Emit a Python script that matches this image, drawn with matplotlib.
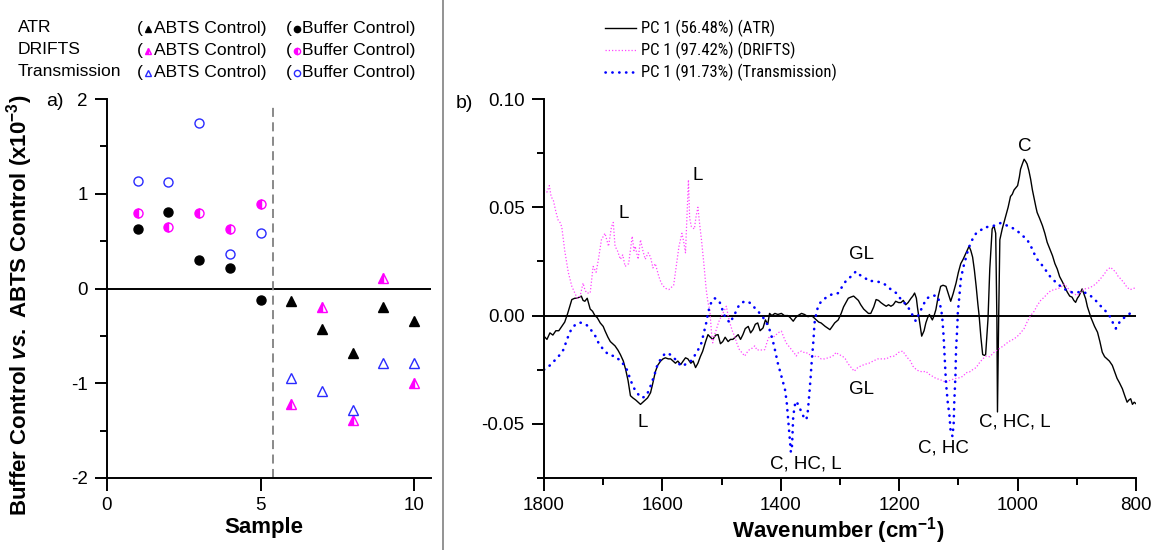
import matplotlib
matplotlib.use('Agg')
import matplotlib.pyplot as plt
import numpy as np

plt.rcParams['font.family'] = ['Liberation Sans', 'DejaVu Sans']
plt.rcParams['axes.unicode_minus'] = False
plt.rcParams['mathtext.fontset'] = 'custom'
plt.rcParams['mathtext.rm'] = 'Liberation Sans:bold'
plt.rcParams['mathtext.it'] = 'Liberation Sans:italic:bold'
plt.rcParams['mathtext.bf'] = 'Liberation Sans:bold'

# ---- panel a) data (x10^-3) ----
samples_buffer = [1, 2, 3, 4, 5]
samples_abts = [6, 7, 8, 9, 10]
atr_buffer = [0.63, 0.81, 0.30, 0.22, -0.12]
drifts_buffer = [0.80, 0.65, 0.80, 0.63, 0.89]
trans_buffer = [1.135, 1.125, 1.75, 0.365, 0.587]
atr_abts = [-0.13, -0.43, -0.68, -0.19, -0.34]
drifts_abts = [-1.22, -0.20, -1.39, 0.11, -1.00]
trans_abts = [-0.94, -1.08, -1.28, -0.79, -0.79]

# ---- panel b) PC1 loadings, (wavenumber, loading) ----
atr_pc1 = [
    (1800, -0.0095), (1795, -0.011), (1790, -0.008), (1785, -0.009), (1780, -0.007),
    (1775, -0.007), (1770, -0.005), (1765, -0.003), (1760, 0.001), (1753, 0.0074),
    (1748, 0.008), (1745, 0.008), (1740, 0.0085), (1737, 0.009), (1734, 0.007),
    (1731, 0.0066), (1727, 0.008), (1722, 0.003), (1718, 0.002), (1714, 0.000),
    (1710, -0.001), (1705, -0.0034), (1700, -0.005), (1697, -0.007), (1692, -0.010),
    (1688, -0.012), (1684, -0.013), (1680, -0.014), (1675, -0.016), (1671, -0.018),
    (1666, -0.021), (1662, -0.025), (1658, -0.030), (1654, -0.037), (1650, -0.038),
    (1645, -0.039), (1641, -0.040), (1637, -0.041), (1633, -0.040), (1629, -0.039),
    (1625, -0.038), (1620, -0.0356), (1616, -0.031), (1612, -0.026), (1608, -0.023),
    (1603, -0.021), (1599, -0.020), (1595, -0.0195), (1590, -0.020), (1586, -0.020),
    (1582, -0.021), (1578, -0.022), (1574, -0.021), (1569, -0.0226), (1565, -0.021),
    (1561, -0.0195), (1557, -0.020), (1552, -0.022), (1548, -0.021), (1544, -0.024),
    (1540, -0.022), (1536, -0.019), (1532, -0.0165), (1527, -0.012), (1523, -0.0088),
    (1519, -0.010), (1515, -0.011), (1510, -0.009), (1506, -0.0088), (1502, -0.013),
    (1498, -0.012), (1494, -0.010), (1489, -0.012), (1485, -0.011), (1481, -0.011),
    (1477, -0.010), (1472, -0.0088), (1468, -0.011), (1464, -0.0088), (1460, -0.006),
    (1455, -0.005), (1451, -0.008), (1447, -0.0065), (1443, -0.004), (1439, -0.0034),
    (1435, -0.007), (1430, -0.0057), (1426, -0.002), (1422, -0.004), (1419, 0.001),
    (1415, 0.000), (1410, 0.001), (1405, 0.0005), (1399, 0.001), (1394, 0.000),
    (1388, 0.000), (1384, -0.001), (1379, -0.0026), (1375, -0.001), (1371, 0.000),
    (1365, 0.001), (1360, 0.0005), (1354, -0.0005), (1348, 0.000), (1344, -0.001),
    (1340, -0.002), (1336, -0.003), (1332, -0.0034), (1325, -0.005), (1317, -0.0065),
    (1313, -0.005), (1309, -0.0034), (1303, -0.002), (1298, 0.001), (1294, 0.004),
    (1290, 0.006), (1286, 0.008), (1282, 0.0085), (1277, 0.009), (1273, 0.008),
    (1269, 0.007), (1265, 0.005), (1260, 0.003), (1256, 0.002), (1252, 0.001),
    (1248, 0.001), (1243, 0.004), (1239, 0.0074), (1235, 0.007), (1231, 0.006),
    (1226, 0.005), (1222, 0.0043), (1218, 0.005), (1214, 0.0043), (1210, 0.005),
    (1206, 0.0066), (1201, 0.006), (1197, 0.006), (1193, 0.007), (1189, 0.005),
    (1185, 0.006), (1180, 0.008), (1177, 0.009), (1174, 0.0104), (1171, 0.008),
    (1169, 0.0035), (1165, -0.004), (1162, -0.0095), (1158, -0.007), (1155, -0.0034),
    (1152, -0.001), (1149, 0.0005), (1146, -0.001), (1144, -0.002), (1141, 0.000),
    (1138, 0.0028), (1134, 0.009), (1130, 0.0135), (1126, 0.014), (1121, 0.0135),
    (1117, 0.010), (1113, 0.0066), (1109, 0.010), (1104, 0.015), (1100, 0.020),
    (1096, 0.024), (1092, 0.026), (1087, 0.029), (1082, 0.032), (1079, 0.030),
    (1076, 0.027), (1073, 0.021), (1070, 0.0135), (1067, 0.005), (1065, 0.000),
    (1062, -0.010), (1059, -0.018), (1056, -0.0184), (1054, -0.018), (1050, -0.0015),
    (1047, 0.0215), (1043, 0.040), (1040, 0.0415), (1037, 0.038), (1035, -0.0015),
    (1034, -0.0445), (1032, -0.0015), (1030, 0.035), (1026, 0.040), (1020, 0.046),
    (1016, 0.050), (1012, 0.055), (1009, 0.056), (1006, 0.058), (1003, 0.059),
    (1000, 0.060), (997, 0.064), (995, 0.0676), (992, 0.070), (989, 0.0722),
    (986, 0.071), (984, 0.070), (981, 0.067), (978, 0.063), (975, 0.058),
    (972, 0.054), (969, 0.050), (967, 0.0476), (963, 0.045), (958, 0.0415),
    (954, 0.038), (950, 0.0338), (946, 0.031), (941, 0.0276), (937, 0.024),
    (933, 0.0215), (929, 0.018), (924, 0.0154), (920, 0.013), (916, 0.0108),
    (912, 0.009), (908, 0.0085), (905, 0.007), (902, 0.0061), (899, 0.008),
    (896, 0.0092), (893, 0.011), (891, 0.0123), (888, 0.010), (885, 0.0077),
    (882, 0.004), (879, 0.0015), (876, -0.001), (874, -0.0023), (870, -0.005),
    (865, -0.0077), (861, -0.012), (857, -0.0169), (853, -0.019), (849, -0.020),
    (845, -0.021), (840, -0.023), (836, -0.026), (832, -0.029), (828, -0.031),
    (823, -0.0338), (819, -0.037), (815, -0.040), (812, -0.039), (809, -0.0384),
    (806, -0.041), (803, -0.040), (800, -0.0407),
]

drifts_pc1 = [
    (1800, 0.058), (1795, 0.057), (1791, 0.060), (1788, 0.055), (1784, 0.053),
    (1780, 0.048), (1776, 0.044), (1773, 0.043), (1770, 0.041), (1765, 0.030),
    (1759, 0.020), (1753, 0.0135), (1748, 0.0104), (1744, 0.008), (1739, 0.009),
    (1734, 0.015), (1731, 0.012), (1728, 0.0104), (1722, 0.0104), (1717, 0.0227),
    (1712, 0.020), (1708, 0.026), (1703, 0.035), (1697, 0.038), (1691, 0.032),
    (1686, 0.041), (1683, 0.043), (1680, 0.032), (1676, 0.030), (1671, 0.026),
    (1667, 0.028), (1663, 0.0227), (1657, 0.024), (1651, 0.0366), (1648, 0.030),
    (1646, 0.032), (1641, 0.026), (1637, 0.035), (1633, 0.030), (1629, 0.026),
    (1624, 0.029), (1620, 0.027), (1616, 0.022), (1612, 0.024), (1606, 0.018),
    (1602, 0.015), (1598, 0.0135), (1594, 0.0125), (1589, 0.012), (1585, 0.013),
    (1581, 0.014), (1577, 0.022), (1572, 0.032), (1567, 0.038), (1564, 0.034),
    (1561, 0.029), (1558, 0.050), (1556, 0.0627), (1554, 0.045), (1551, 0.041),
    (1546, 0.040), (1543, 0.046), (1540, 0.050), (1537, 0.042), (1534, 0.035),
    (1530, 0.024), (1526, 0.012), (1523, 0.006), (1520, 0.0028), (1517, -0.008),
    (1515, -0.0126), (1512, -0.009), (1509, -0.0065), (1505, -0.003), (1500, 0.000),
    (1496, 0.002), (1492, 0.0043), (1489, 0.000), (1486, -0.0034), (1482, -0.007),
    (1478, -0.0095), (1474, -0.013), (1470, -0.0157), (1466, -0.017), (1461, -0.0187),
    (1457, -0.017), (1453, -0.0157), (1448, -0.015), (1444, -0.014), (1440, -0.016),
    (1436, -0.0157), (1431, -0.016), (1427, -0.0157), (1423, -0.012), (1419, -0.0095),
    (1414, -0.010), (1410, -0.0095), (1405, -0.008), (1399, -0.0072), (1395, -0.010),
    (1391, -0.0126), (1387, -0.014), (1382, -0.0157), (1378, -0.017), (1374, -0.0187),
    (1370, -0.017), (1365, -0.0164), (1361, -0.017), (1357, -0.017), (1353, -0.018),
    (1349, -0.018), (1344, -0.019), (1340, -0.0187), (1336, -0.019), (1332, -0.020),
    (1326, -0.020), (1320, -0.0195), (1314, -0.019), (1309, -0.018), (1307, -0.017),
    (1302, -0.018), (1296, -0.0187), (1291, -0.020), (1287, -0.022), (1281, -0.024),
    (1276, -0.0257), (1270, -0.024), (1265, -0.0233), (1258, -0.0225), (1251, -0.022),
    (1244, -0.021), (1236, -0.020), (1229, -0.020), (1222, -0.020), (1215, -0.019),
    (1208, -0.0187), (1201, -0.017), (1194, -0.0164), (1190, -0.018), (1186, -0.0195),
    (1181, -0.021), (1177, -0.0233), (1171, -0.025), (1166, -0.0257), (1160, -0.026),
    (1155, -0.0257), (1150, -0.027), (1144, -0.028), (1138, -0.029), (1132, -0.0295),
    (1127, -0.030), (1121, -0.031), (1115, -0.030), (1110, -0.0295), (1104, -0.029),
    (1098, -0.0287), (1092, -0.028), (1087, -0.0264), (1081, -0.026), (1076, -0.025),
    (1070, -0.024), (1065, -0.022), (1059, -0.020), (1053, -0.0187), (1047, -0.019),
    (1040, -0.017), (1032, -0.0155), (1023, -0.0138), (1015, -0.012), (1006, -0.0108),
    (998, -0.009), (989, -0.006), (984, -0.003), (978, 0.000), (972, 0.002),
    (967, 0.0046), (961, 0.007), (955, 0.0085), (950, 0.010), (944, 0.0115),
    (938, 0.012), (933, 0.0123), (927, 0.013), (921, 0.0146), (916, 0.013),
    (910, 0.0108), (904, 0.010), (899, 0.0092), (893, 0.011), (888, 0.0123),
    (882, 0.0125), (877, 0.013), (871, 0.014), (865, 0.0154), (860, 0.017),
    (854, 0.019), (849, 0.021), (843, 0.0223), (838, 0.021), (834, 0.020),
    (830, 0.018), (826, 0.017), (820, 0.015), (815, 0.013), (810, 0.012),
    (806, 0.0123), (802, 0.0128), (800, 0.013),
]

trans_pc1 = [
    (1800, -0.025), (1795, -0.024), (1790, -0.023), (1785, -0.0215), (1779, -0.020),
    (1773, -0.018), (1767, -0.0157), (1763, -0.0125), (1759, -0.0095), (1755, -0.007),
    (1750, -0.005), (1746, -0.004), (1742, -0.0034), (1738, -0.0033), (1734, -0.0037),
    (1730, -0.004), (1725, -0.005), (1721, -0.0065), (1717, -0.008), (1712, -0.010),
    (1708, -0.0126), (1704, -0.014), (1700, -0.0157), (1695, -0.017), (1691, -0.018),
    (1686, -0.0185), (1680, -0.0187), (1675, -0.020), (1669, -0.021), (1665, -0.023),
    (1660, -0.025), (1656, -0.028), (1652, -0.031), (1647, -0.034), (1643, -0.0356),
    (1639, -0.037), (1635, -0.038), (1630, -0.0375), (1626, -0.0364), (1622, -0.034),
    (1618, -0.031), (1613, -0.027), (1609, -0.0233), (1605, -0.021), (1601, -0.0195),
    (1597, -0.018), (1592, -0.0172), (1587, -0.018), (1581, -0.0195), (1575, -0.021),
    (1569, -0.0233), (1564, -0.023), (1558, -0.022), (1552, -0.021), (1546, -0.0187),
    (1540, -0.016), (1534, -0.0126), (1530, -0.008), (1526, -0.0034), (1523, 0.001),
    (1520, 0.0043), (1516, 0.007), (1512, 0.008), (1507, 0.0075), (1503, 0.006),
    (1499, 0.003), (1495, 0.000), (1490, -0.002), (1486, -0.0034), (1482, -0.0015),
    (1478, 0.0005), (1474, 0.003), (1470, 0.005), (1465, 0.006), (1461, 0.0066),
    (1457, 0.0065), (1453, 0.006), (1448, 0.005), (1444, 0.0035), (1440, 0.0025),
    (1436, 0.0012), (1431, -0.0005), (1427, -0.002), (1423, -0.004), (1419, -0.0065),
    (1414, -0.011), (1410, -0.0157), (1405, -0.022), (1399, -0.028), (1393, -0.034),
    (1390, -0.040), (1388, -0.0464), (1385, -0.0556), (1383, -0.063), (1381, -0.060),
    (1379, -0.0464), (1376, -0.041), (1374, -0.0395), (1371, -0.041), (1368, -0.0425),
    (1365, -0.045), (1362, -0.0464), (1359, -0.048), (1357, -0.048), (1355, -0.046),
    (1353, -0.040), (1350, -0.030), (1348, -0.022), (1345, -0.012), (1343, -0.0034),
    (1340, 0.001), (1337, 0.0043), (1333, 0.006), (1329, 0.0066), (1325, 0.008),
    (1320, 0.0089), (1316, 0.0095), (1312, 0.010), (1307, 0.0100), (1303, 0.0104),
    (1296, 0.0135), (1290, 0.016), (1284, 0.0174), (1278, 0.019), (1273, 0.0204),
    (1268, 0.019), (1262, 0.018), (1256, 0.017), (1251, 0.0158), (1245, 0.016),
    (1239, 0.0158), (1234, 0.0155), (1228, 0.015), (1222, 0.014), (1217, 0.0127),
    (1211, 0.0115), (1205, 0.0104), (1200, 0.0085), (1194, 0.0066), (1190, 0.0055),
    (1186, 0.0043), (1181, 0.002), (1177, 0.000), (1172, -0.0026), (1168, 0.000),
    (1163, 0.0028), (1159, 0.005), (1155, 0.0074), (1150, 0.0085), (1144, 0.0092),
    (1140, 0.0092), (1135, 0.0089), (1132, 0.006), (1129, 0.0028), (1127, -0.002),
    (1125, -0.0095), (1123, -0.020), (1121, -0.031), (1118, -0.040), (1115, -0.0464),
    (1113, -0.054), (1110, -0.0557), (1108, -0.050), (1107, -0.040), (1105, -0.028),
    (1104, -0.0157), (1102, -0.006), (1101, 0.0012), (1098, 0.010), (1096, 0.0166),
    (1092, 0.022), (1087, 0.027), (1083, 0.031), (1079, 0.0335), (1075, 0.036),
    (1070, 0.038), (1065, 0.039), (1059, 0.040), (1057, 0.0407), (1048, 0.041),
    (1040, 0.0415), (1035, 0.042), (1029, 0.0427), (1023, 0.042), (1017, 0.0415),
    (1012, 0.041), (1006, 0.040), (1000, 0.039), (995, 0.0376), (990, 0.0365),
    (984, 0.0353), (980, 0.033), (975, 0.0307), (971, 0.028), (967, 0.026),
    (962, 0.0245), (958, 0.023), (954, 0.0215), (950, 0.020), (945, 0.018),
    (941, 0.0169), (937, 0.0158), (933, 0.0146), (927, 0.0135), (921, 0.0123),
    (916, 0.0115), (910, 0.0108), (905, 0.0108), (899, 0.0108), (893, 0.0108),
    (888, 0.0108), (882, 0.010), (877, 0.0092), (871, 0.0077), (865, 0.0061),
    (860, 0.0045), (854, 0.003), (849, 0.0012), (843, -0.0008), (838, -0.004),
    (834, -0.006), (830, -0.004), (826, -0.0023), (820, -0.001), (815, 0.000),
    (810, 0.001), (806, 0.0015), (803, 0.001), (801, 0.0008),
]

# band assignments (label, wavenumber, loading)
band_labels = [
    ('C', 988, 0.078), ('L', 1666, 0.047), ('L', 1541, 0.0645), ('L', 1634, -0.0495),
    ('GL', 1263, 0.028), ('GL', 1263, -0.034), ('C, HC, L', 1357, -0.0685),
    ('C, HC', 1126, -0.061), ('C, HC, L', 1004, -0.049),
]

MAGENTA = '#ff00ff'
BLUE = '#2a2aff'
W, H = 1153, 550

fig = plt.figure(figsize=(W / 100, H / 100), dpi=100)
ax1 = fig.add_axes([107 / W, 1 - 478 / H, (431 - 107) / W, (478 - 99) / H])
ax2 = fig.add_axes([544 / W, 1 - 478 / H, (1136 - 544) / W, (478 - 99) / H])

# ---------------- panel a ----------------
ax1.axhline(0, color='black', lw=1.4, zorder=1)
ax1.axvline(5.4, ymax=0.985, color='gray', lw=1.3, ls=(0, (5, 3)), zorder=1)
ax1.plot(samples_buffer, atr_buffer, 'o', color='black', ms=6.5, ls='none')
ax1.plot(samples_buffer, drifts_buffer, 'o', ls='none', ms=6.5, fillstyle='left',
         mfc=MAGENTA, mfcalt='white', mec=MAGENTA, mew=1)
ax1.plot(samples_buffer, trans_buffer, 'o', ls='none', ms=6.5, mfc='none', mec=BLUE, mew=1)
ax1.plot(samples_abts, atr_abts, '^', color='black', ms=7.5, ls='none')
ax1.plot(samples_abts, drifts_abts, '^', ls='none', ms=7.5, fillstyle='left',
         mfc=MAGENTA, mfcalt='white', mec=MAGENTA, mew=1)
ax1.plot(samples_abts, trans_abts, '^', ls='none', ms=7.5, mfc='none', mec=BLUE, mew=1)

ax1.set_xlim(0, 10.55)
ax1.set_ylim(-2, 2)
ax1.set_xticks([0, 5, 10])
ax1.set_yticks([-2, -1, 0, 1, 2])
ax1.set_yticks([-1.5, -0.5, 0.5, 1.5], minor=True)

# ---------------- panel b ----------------
ATR_STYLE = dict(color='black', lw=1.0)
DRIFTS_STYLE = dict(color='#ff44ff', lw=0.9, ls=(0, (1, 1.6)))
TRANS_STYLE = dict(color='#0000ff', lw=1.9, ls=(0, (0.1, 2.5)), dash_capstyle='round')

ax2.axhline(0, color='black', lw=1.4, zorder=1)
for series, kw in [(atr_pc1, ATR_STYLE), (drifts_pc1, DRIFTS_STYLE), (trans_pc1, TRANS_STYLE)]:
    wn, val = zip(*series)
    ax2.plot(wn, val, **kw)

for lab, wn, val in band_labels:
    ax2.text(wn, val, lab, ha='center', va='center', fontsize=13.5)

ax2.set_xlim(1800, 800)
ax2.set_ylim(-0.075, 0.10)
ax2.set_xticks([1800, 1600, 1400, 1200, 1000, 800])
ax2.set_xticks([1700, 1500, 1300, 1100, 900], minor=True)
ax2.set_yticks([-0.05, 0.0, 0.05, 0.10])
ax2.set_yticks([-0.075, -0.025, 0.025, 0.075], minor=True)
ax2.yaxis.set_major_formatter(matplotlib.ticker.FormatStrFormatter('%.2f'))

for ax in (ax1, ax2):
    ax.set_facecolor('none')
    ax.spines['top'].set_visible(False)
    ax.spines['right'].set_visible(False)
    ax.spines['left'].set_linewidth(1.4)
    ax.spines['bottom'].set_linewidth(1.4)
    ax.tick_params(which='major', direction='out', length=9, width=1.4, labelsize=13.5, pad=5)
    ax.tick_params(which='minor', direction='out', length=5, width=1.4)

# ---------------- text & legends ----------------
fig.text(20 / W, 1 - 305 / H, r'Buffer Control $\mathit{vs.}$ ABTS Control (x10$^{-3}$)',
         rotation=90, ha='center', va='center', fontsize=16, fontweight='bold')
fig.text(264 / W, 1 - 527 / H, 'Sample', ha='center', va='center', fontsize=16, fontweight='bold')
fig.text(838 / W, 1 - 531 / H, r'Wavenumber (cm$^{-1}$)', ha='center', va='center',
         fontsize=16, fontweight='bold')
fig.text(46 / W, 1 - 101 / H, 'a)', ha='left', va='center', fontsize=14)
fig.text(456 / W, 1 - 103 / H, 'b)', ha='left', va='center', fontsize=14)

ov = fig.add_axes([0, 0, 1, 1], zorder=-1)
ov.set_xlim(0, W)
ov.set_ylim(H, 0)
ov.axis('off')
ov.plot([443, 443], [0, H], color='#808080', lw=1.2)

legend_rows = [
    ('ATR', 28, dict(color='black'), dict(color='black')),
    ('DRIFTS', 50, dict(mfc=MAGENTA, mfcalt='white', mec=MAGENTA, fillstyle='left'),
     dict(mfc=MAGENTA, mfcalt='white', mec=MAGENTA, fillstyle='left')),
    ('Transmission', 72, dict(mfc='none', mec=BLUE), dict(mfc='none', mec=BLUE)),
]
for name, y, tri_kw, circ_kw in legend_rows:
    ov.text(18, y, name, ha='left', va='center', fontsize=12.6)
    ov.text(137, y, '(', ha='left', va='center', fontsize=12.6)
    ov.plot([148], [y + 1], '^', ms=5, mew=1, **tri_kw)
    ov.text(154, y, 'ABTS Control)', ha='left', va='center', fontsize=12.6)
    ov.text(286, y, '(', ha='left', va='center', fontsize=12.6)
    ov.plot([297], [y + 1], 'o', ms=4.5, mew=1, **circ_kw)
    ov.text(302, y, 'Buffer Control)', ha='left', va='center', fontsize=12.6)

narrow = ['Liberation Sans Narrow', 'Roboto Condensed', 'Arial Narrow', 'Roboto']
pc_rows = [
    ('PC 1 (56.48%) (ATR)', 28, ATR_STYLE),
    ('PC 1 (97.42%) (DRIFTS)', 50, DRIFTS_STYLE),
    ('PC 1 (91.73%) (Transmission)', 72, TRANS_STYLE),
]
for label, y, kw in pc_rows:
    ov.plot([605, 636], [y, y], **kw)
    ov.text(641, y, label, ha='left', va='center', fontsize=12, family=narrow)

fig.savefig('out.png', dpi=100)
